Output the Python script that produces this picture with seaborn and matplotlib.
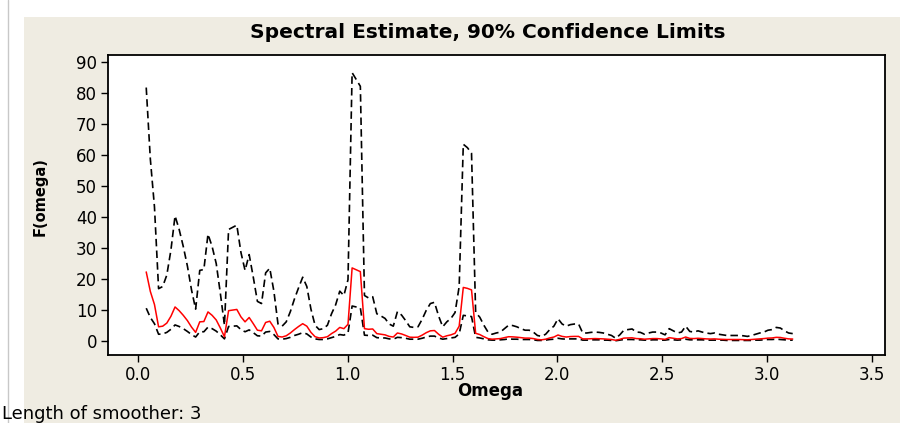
import matplotlib
matplotlib.use("Agg")
import matplotlib.pyplot as plt
import numpy as np
import pandas as pd
import seaborn as sns
from matplotlib.lines import Line2D
from matplotlib.patches import Rectangle

sns.set_style("ticks")
plt.rcParams["font.family"] = ["DejaVu Sans"]
plt.rcParams["text.color"] = "black"
plt.rcParams["axes.labelcolor"] = "black"
plt.rcParams["xtick.color"] = "black"
plt.rcParams["ytick.color"] = "black"

# Fourier frequencies 2*pi*k/n, n = 320, k = 2..159 (smoother of length 3 drops the ends)
n_obs = 320
k_index = np.arange(2, 160)
omega = 2 * np.pi * k_index / n_obs

# smoothed periodogram
estimate = [
    22.3, 16.0, 11.8, 4.6, 4.8, 5.8, 8.0, 11.0, 9.8, 8.3,
    6.6, 4.5, 2.8, 6.2, 6.3, 9.4, 8.3, 6.8, 4.2, 1.4,
    9.8, 10.0, 10.2, 7.8, 6.2, 7.6, 5.6, 3.5, 3.3, 6.0,
    6.4, 4.4, 1.5, 1.3, 1.7, 2.6, 3.7, 4.7, 5.6, 4.8,
    2.8, 1.4, 1.0, 1.1, 1.4, 2.4, 3.2, 4.4, 4.0, 5.4,
    23.6, 23.0, 22.4, 4.0, 3.8, 3.9, 2.4, 2.2, 2.0, 1.5,
    1.3, 2.6, 2.3, 1.8, 1.25, 1.2, 1.25, 1.9, 2.7, 3.3,
    3.4, 2.2, 1.25, 1.7, 2.0, 2.5, 4.8, 17.3, 17.0, 16.5,
    2.5, 2.1, 1.4, 0.8, 0.6, 0.7, 0.8, 1.1, 1.4, 1.35,
    1.25, 1.1, 0.95, 0.95, 0.8, 0.5, 0.4, 0.6, 1.0, 1.3,
    1.95, 1.5, 1.3, 1.45, 1.5, 1.5, 0.7, 0.7, 0.75, 0.8,
    0.75, 0.7, 0.6, 0.5, 0.25, 0.55, 0.95, 1.0, 1.05, 0.8,
    0.75, 0.6, 0.7, 0.8, 0.8, 0.7, 0.55, 1.1, 0.9, 0.7,
    0.8, 1.3, 0.85, 0.8, 0.9, 0.8, 0.7, 0.65, 0.7, 0.6,
    0.55, 0.5, 0.5, 0.5, 0.5, 0.45, 0.4, 0.5, 0.6, 0.7,
    0.8, 0.95, 1.0, 1.2, 1.15, 0.9, 0.7, 0.65,
]

# 90% limits (upper / lower dashed lines)
upper = [
    81.8, 58.7, 43.3, 16.9, 17.6, 21.3, 29.4, 40.4, 36.0, 30.5,
    24.2, 16.5, 10.3, 22.8, 23.1, 34.5, 30.5, 25.0, 15.4, 5.1,
    36.0, 36.7, 37.4, 28.6, 22.8, 27.9, 20.6, 12.8, 12.1, 22.0,
    23.5, 16.1, 5.5, 4.8, 6.2, 9.5, 13.6, 17.2, 20.6, 17.6,
    10.3, 5.1, 3.7, 4.0, 5.1, 8.8, 11.7, 16.1, 14.7, 19.8,
    86.6, 84.4, 82.2, 14.7, 13.9, 14.3, 8.8, 8.1, 7.3, 5.5,
    4.8, 9.5, 8.4, 6.6, 4.6, 4.4, 4.6, 7.0, 9.9, 12.1,
    12.5, 8.1, 4.6, 6.2, 7.3, 9.2, 17.6, 63.5, 62.4, 60.6,
    9.2, 7.7, 5.1, 2.9, 2.2, 2.6, 2.9, 4.0, 5.1, 5.0,
    4.6, 4.0, 3.5, 3.5, 2.9, 1.8, 1.5, 2.2, 3.7, 4.8,
    7.2, 5.5, 4.8, 5.3, 5.5, 5.5, 2.6, 2.6, 2.8, 2.9,
    2.8, 2.6, 2.2, 1.8, 0.9, 2.0, 3.5, 3.7, 3.9, 2.9,
    2.8, 2.2, 2.6, 2.9, 2.9, 2.6, 2.0, 4.0, 3.3, 2.6,
    2.9, 4.8, 3.1, 2.9, 3.3, 2.9, 2.6, 2.4, 2.6, 2.2,
    2.0, 1.8, 1.8, 1.8, 1.8, 1.7, 1.5, 1.8, 2.2, 2.6,
    2.9, 3.5, 3.7, 4.4, 4.2, 3.3, 2.6, 2.4,
]

lower = [
    10.6, 7.6, 5.6, 2.2, 2.3, 2.8, 3.8, 5.2, 4.7, 4.0,
    3.1, 2.1, 1.3, 3.0, 3.0, 4.5, 4.0, 3.2, 2.0, 0.7,
    4.7, 4.8, 4.9, 3.7, 3.0, 3.6, 2.7, 1.7, 1.6, 2.9,
    3.1, 2.1, 0.7, 0.6, 0.8, 1.2, 1.8, 2.2, 2.7, 2.3,
    1.3, 0.7, 0.5, 0.5, 0.7, 1.1, 1.5, 2.1, 1.9, 2.6,
    11.3, 11.0, 10.7, 1.9, 1.8, 1.9, 1.1, 1.0, 1.0, 0.7,
    0.6, 1.2, 1.1, 0.9, 0.6, 0.6, 0.6, 0.9, 1.3, 1.6,
    1.6, 1.0, 0.6, 0.8, 1.0, 1.2, 2.3, 8.3, 8.1, 7.9,
    1.2, 1.0, 0.7, 0.4, 0.3, 0.3, 0.4, 0.5, 0.7, 0.6,
    0.6, 0.5, 0.5, 0.5, 0.4, 0.2, 0.2, 0.3, 0.5, 0.6,
    0.9, 0.7, 0.6, 0.7, 0.7, 0.7, 0.3, 0.3, 0.4, 0.4,
    0.4, 0.3, 0.3, 0.2, 0.1, 0.3, 0.5, 0.5, 0.5, 0.4,
    0.4, 0.3, 0.3, 0.4, 0.4, 0.3, 0.3, 0.5, 0.4, 0.3,
    0.4, 0.6, 0.4, 0.4, 0.4, 0.4, 0.3, 0.3, 0.3, 0.3,
    0.3, 0.2, 0.2, 0.2, 0.2, 0.2, 0.2, 0.2, 0.3, 0.3,
    0.4, 0.5, 0.5, 0.6, 0.5, 0.4, 0.3, 0.3,
]

x_ticks = [0.0, 0.5, 1.0, 1.5, 2.0, 2.5, 3.0, 3.5]
y_ticks = [0, 10, 20, 30, 40, 50, 60, 70, 80, 90]

BG = "#EFECE2"
W, H = 900, 423

df = pd.DataFrame({"omega": omega, "estimate": estimate, "upper": upper, "lower": lower})

fig = plt.figure(figsize=(W / 100, H / 100), dpi=100)
fig.patch.set_facecolor("white")
fig.patches.append(Rectangle((24 / W, 0), 1 - 24 / W, (H - 17) / H, transform=fig.transFigure,
                             facecolor=BG, edgecolor="none", zorder=-10))
fig.lines.append(Line2D([7.5 / W, 7.5 / W], [0, 1], transform=fig.transFigure,
                        color="#C8C8C8", linewidth=1.0))

left, right, top, bottom = 108, 885, 55, 355
ax = fig.add_axes([left / W, (H - bottom) / H, (right - left) / W, (bottom - top) / H])
ax.set_facecolor("white")

sns.lineplot(data=df, x="omega", y="upper", ax=ax, color="black", linewidth=1.2,
             sort=False, estimator=None)
sns.lineplot(data=df, x="omega", y="lower", ax=ax, color="black", linewidth=1.2,
             sort=False, estimator=None)
for ln in ax.lines:
    ln.set_dashes((4.5, 2.5))
sns.lineplot(data=df, x="omega", y="estimate", ax=ax, color="#FF0000", linewidth=1.1,
             sort=False, estimator=None)

ax.set_xlim(-0.143, 3.562)
ax.set_ylim(-4.5, 92.3)
ax.set_xticks(x_ticks)
ax.set_xticklabels([f"{t:.1f}" for t in x_ticks])
ax.set_yticks(y_ticks)
ax.tick_params(direction="out", length=5, width=1, labelsize=12, pad=3)
for sp in ax.spines.values():
    sp.set_visible(True)
    sp.set_linewidth(1.3)
    sp.set_color("black")

ax.set_xlabel("Omega", fontsize=12, fontweight="bold")
ax.set_ylabel("F(omega)", fontsize=10.5, fontweight="bold")
ax.xaxis.set_label_coords((490 - left) / (right - left), (bottom - 391) / (bottom - top))
ax.yaxis.set_label_coords((40 - left) / (right - left), (bottom - 197) / (bottom - top))
for lab in (ax.xaxis.label, ax.yaxis.label):
    lab.set_verticalalignment("center")

fig.text(488 / W, 1 - 33 / H, "Spectral Estimate, 90% Confidence Limits", ha="center", va="center",
         fontsize=14.5, fontweight="bold")
fig.text(2 / W, 1 - 414 / H, "Length of smoother: 3", ha="left", va="center", fontsize=13)

fig.savefig("out.png", dpi=100, facecolor=fig.get_facecolor())
